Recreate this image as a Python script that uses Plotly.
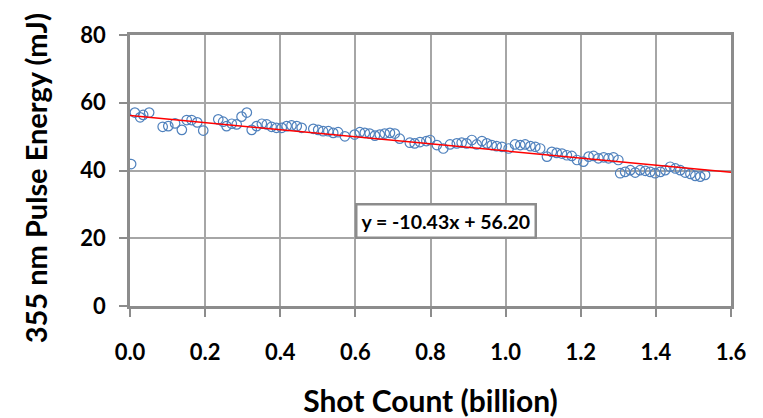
import plotly.graph_objects as go

shot_count = [0.003, 0.013, 0.027, 0.035, 0.051, 0.087, 0.102, 0.120, 0.138, 0.151,
              0.164, 0.179, 0.195, 0.235, 0.248, 0.257, 0.271, 0.284, 0.297, 0.311,
              0.324, 0.337, 0.351, 0.364, 0.377, 0.390, 0.404, 0.417, 0.430, 0.444,
              0.457, 0.488, 0.501, 0.514, 0.528, 0.541, 0.554, 0.572, 0.598, 0.612,
              0.625, 0.638, 0.652, 0.665, 0.678, 0.692, 0.705, 0.718, 0.745, 0.758,
              0.772, 0.789, 0.799, 0.817, 0.834, 0.852, 0.870, 0.883, 0.896, 0.910,
              0.923, 0.937, 0.950, 0.963, 0.976, 0.990, 1.008, 1.025, 1.039, 1.052,
              1.066, 1.079, 1.092, 1.110, 1.123, 1.136, 1.150, 1.163, 1.176, 1.190,
              1.207, 1.221, 1.234, 1.247, 1.261, 1.274, 1.287, 1.300, 1.305, 1.318,
              1.332, 1.345, 1.358, 1.372, 1.385, 1.398, 1.412, 1.425, 1.438, 1.452,
              1.465, 1.478, 1.492, 1.505, 1.518, 1.531]
pulse_energy = [41.9, 57.1, 55.7, 56.4, 57.1, 52.9, 53.1, 53.9, 52.0, 54.9,
                54.9, 54.2, 51.8, 55.1, 54.4, 53.1, 53.8, 53.6, 55.9, 57.1,
                52.0, 53.1, 53.8, 53.6, 52.9, 52.6, 52.6, 53.1, 53.3, 53.1,
                52.6, 52.3, 52.0, 51.6, 51.6, 51.1, 51.3, 50.1, 50.6, 51.3,
                51.1, 50.9, 50.3, 50.6, 50.9, 51.1, 50.9, 49.4, 48.2, 48.0,
                48.4, 48.7, 49.0, 47.5, 46.5, 47.7, 48.0, 48.2, 48.0, 49.0,
                47.7, 48.7, 48.0, 47.5, 47.2, 47.0, 46.5, 47.7, 47.5, 47.7,
                47.2, 47.0, 46.5, 44.1, 45.5, 45.2, 45.0, 44.5, 44.3, 43.1,
                42.6, 44.1, 44.3, 43.6, 43.9, 43.6, 43.9, 43.1, 39.2, 39.6,
                40.1, 39.4, 40.1, 39.9, 39.6, 39.2, 39.6, 40.1, 41.1, 40.6,
                40.1, 39.4, 39.0, 38.4, 38.2, 38.7]

fit_slope = -10.43
fit_intercept = 56.20
fit_x = [0.0, 1.6]
fit_y = [fit_intercept + fit_slope * v for v in fit_x]

x_ticks = [0.0, 0.2, 0.4, 0.6, 0.8, 1.0, 1.2, 1.4, 1.6]
x_tick_labels = ["0.0", "0.2", "0.4", "0.6", "0.8", "1.0", "1.2", "1.4", "1.6"]
y_ticks = [0, 20, 40, 60, 80]
eq_label = "y = -10.43x + 56.20"
x_title = "Shot Count (billion)"
y_title = "355 nm Pulse Energy (mJ)"

FONT = "Lato"
GRID = "#a6a6a6"

fig = go.Figure()
fig.add_trace(go.Scatter(
    x=shot_count, y=pulse_energy, mode="markers",
    marker=dict(symbol="circle-open", size=9.5, color="#4f81bd", line=dict(width=1.2)),
    showlegend=False, hoverinfo="skip"))
fig.add_trace(go.Scatter(
    x=fit_x, y=fit_y, mode="lines",
    line=dict(color="#ff0000", width=1.5),
    showlegend=False, hoverinfo="skip"))

fig.add_annotation(
    x=0.841, y=25.1, xref="x", yref="y", text=eq_label, showarrow=False,
    font=dict(family=FONT, size=19.5, color="#000000", weight="bold"),
    bgcolor="#ffffff", bordercolor="#8c8c8c", borderwidth=2.5, borderpad=4)

fig.add_annotation(
    x=-0.157, y=0.47, xref="paper", yref="paper", text=y_title, showarrow=False,
    textangle=-90, xanchor="center", yanchor="middle",
    font=dict(family=FONT, size=29, color="#000000", weight="bold"))

fig.update_layout(
    width=763, height=418,
    margin=dict(l=130, r=32, t=35, b=112, autoexpand=False),
    paper_bgcolor="#ffffff", plot_bgcolor="#ffffff",
    font=dict(family=FONT, color="#000000"),
)
fig.update_xaxes(
    range=[0, 1.6], tickvals=x_ticks, ticktext=x_tick_labels,
    showgrid=True, gridcolor=GRID, gridwidth=1.5,
    showline=True, linecolor="#8c8c8c", linewidth=2.5, mirror=True,
    ticks="outside", ticklen=8, tickcolor="#8c8c8c", tickwidth=1.5,
    ticklabelstandoff=17, automargin=False,
    tickfont=dict(family=FONT, size=22, weight="bold"),
    title=dict(text=x_title, standoff=27,
               font=dict(family=FONT, size=30, weight="bold")),
    zeroline=False,
)
fig.update_yaxes(
    range=[0, 80], tickvals=y_ticks,
    showgrid=True, gridcolor=GRID, gridwidth=1.5,
    showline=True, linecolor="#8c8c8c", linewidth=2.5, mirror=True,
    ticks="outside", ticklen=8, tickcolor="#8c8c8c", tickwidth=1.5,
    ticklabelstandoff=9, automargin=False,
    tickfont=dict(family=FONT, size=22, weight="bold"),
    zeroline=False,
)

fig.write_html("out.html")
